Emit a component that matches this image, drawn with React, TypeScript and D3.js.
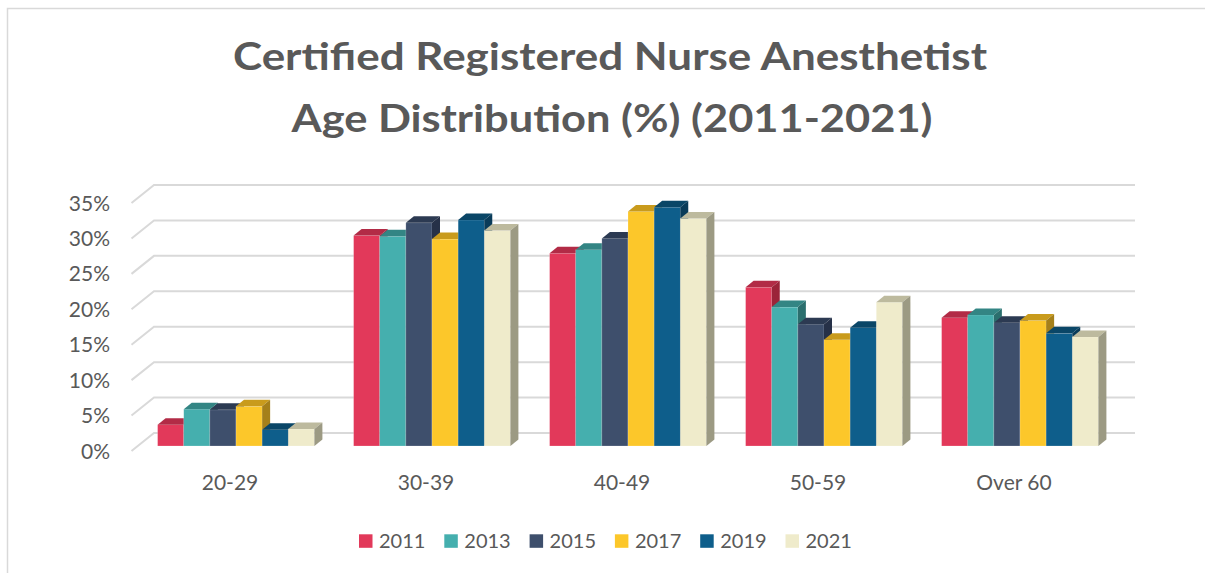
import React, { useRef, useEffect } from "react";
import * as d3 from "d3";

const categories = ["20-29", "30-39", "40-49", "50-59", "Over 60"];
const years = ["2011", "2013", "2015", "2017", "2019", "2021"];

const values2011 = [3.0, 29.7, 27.2, 22.4, 18.1];
const values2013 = [5.2, 29.6, 27.7, 19.6, 18.5];
const values2015 = [5.1, 31.5, 29.3, 17.2, 17.4];
const values2017 = [5.6, 29.2, 33.1, 15.0, 17.7];
const values2019 = [2.3, 31.9, 33.7, 16.7, 15.9];
const values2021 = [2.4, 30.4, 32.1, 20.3, 15.4];

const yTicks = [0, 5, 10, 15, 20, 25, 30, 35];

const frontColors = ["#E2395A", "#45AFAE", "#3E4F6C", "#FCC72A", "#0E5E8B", "#EFEBCB"];
const topColors = ["#B22B46", "#338584", "#2C3A52", "#C99B1C", "#0A4667", "#BDBA9E"];
const sideColors = ["#9B2339", "#2B6F6E", "#263148", "#A5801A", "#093B59", "#9C9A83"];

const FONT = "Lato, 'Open Sans', sans-serif";
const TEXT = "#595959";

const Chart = () => {
  const ref = useRef<SVGSVGElement | null>(null);

  useEffect(() => {
    if (!ref.current) return;
    const svg = d3.select(ref.current);
    svg.selectAll("*").remove();

    const series = [values2011, values2013, values2015, values2017, values2019, values2021];

    // front plane of the floor and the depth offsets of the 3d look
    const left = 132, right = 1112;
    const wallDx = 22, wallDy = -18;
    const planeDx = 6, planeDy = -5;
    const barDx = 8, barDy = -6.5;

    const y = d3.scaleLinear().domain([0, 35]).range([451, 203]);
    const x0 = d3.scaleBand().domain(categories).range([left, right]).paddingInner(0.2).paddingOuter(0.1);
    const x1 = d3.scaleBand().domain(years).range([0, x0.bandwidth()]);

    // chart border
    svg.append("rect")
      .attr("x", 7.5).attr("y", 8.5)
      .attr("width", 1300).attr("height", 700)
      .attr("fill", "#fff")
      .attr("stroke", "#d9d9d9").attr("stroke-width", 1.5);

    // title
    const title = svg.append("text")
      .attr("text-anchor", "middle")
      .attr("font-family", FONT)
      .attr("font-weight", 700)
      .attr("font-size", 38)
      .attr("fill", TEXT);
    title.append("tspan").attr("x", 610).attr("y", 70)
      .attr("textLength", 754).attr("lengthAdjust", "spacingAndGlyphs")
      .text("Certified Registered Nurse Anesthetist");
    title.append("tspan").attr("x", 612).attr("y", 132)
      .attr("textLength", 641).attr("lengthAdjust", "spacingAndGlyphs")
      .text("Age Distribution (%) (2011-2021)");

    // gridlines on floor edge + back wall
    svg.append("g")
      .selectAll("path")
      .data(yTicks)
      .enter()
      .append("path")
      .attr("d", d => `M${left - 0.5},${y(d)} L${left + wallDx},${y(d) + wallDy} L${right + wallDx + 1},${y(d) + wallDy}`)
      .attr("fill", "none")
      .attr("stroke", "#d9d9d9")
      .attr("stroke-width", 2);

    // y axis labels
    svg.append("g")
      .selectAll("text")
      .data(yTicks)
      .enter()
      .append("text")
      .attr("x", 110)
      .attr("y", d => y(d))
      .attr("dy", "0.36em")
      .attr("text-anchor", "end")
      .attr("font-family", FONT)
      .attr("font-size", 21)
      .attr("fill", TEXT)
      .text(d => d + "%");

    // bars
    const bars = svg.append("g");
    categories.forEach((cat, i) => {
      years.forEach((yr, j) => {
        const v = series[j][i];
        const bx = (x0(cat) as number) + (x1(yr) as number) + planeDx;
        const w = x1.bandwidth();
        const top = y(v) + planeDy;
        const bottom = y(0) + planeDy;
        const g = bars.append("g");
        g.append("rect")
          .attr("x", bx).attr("y", top)
          .attr("width", w).attr("height", bottom - top)
          .attr("fill", frontColors[j])
          .attr("stroke", "rgba(255,255,255,0.35)").attr("stroke-width", 0.6);
        g.append("path")
          .attr("d", `M${bx},${top} L${bx + w},${top} L${bx + w + barDx},${top + barDy} L${bx + barDx},${top + barDy} Z`)
          .attr("fill", topColors[j]);
        g.append("path")
          .attr("d", `M${bx + w},${top} L${bx + w + barDx},${top + barDy} L${bx + w + barDx},${bottom + barDy} L${bx + w},${bottom} Z`)
          .attr("fill", sideColors[j]);
      });
    });

    // category labels
    svg.append("g")
      .selectAll("text")
      .data(categories)
      .enter()
      .append("text")
      .attr("x", d => (x0(d) as number) + x0.bandwidth() / 2)
      .attr("y", 482)
      .attr("dy", "0.36em")
      .attr("text-anchor", "middle")
      .attr("font-family", FONT)
      .attr("font-size", 21)
      .attr("fill", TEXT)
      .text(d => d);

    // legend
    const legendX = d3.scaleLinear().domain([0, years.length - 1]).range([359, 785.5]);
    const legend = svg.append("g")
      .selectAll("g")
      .data(years)
      .enter()
      .append("g")
      .attr("transform", (d, j) => `translate(${legendX(j)},541)`);
    legend.append("rect")
      .attr("x", 0).attr("y", -6.7)
      .attr("width", 13.5).attr("height", 13.5)
      .attr("fill", (d, j) => frontColors[j]);
    legend.append("text")
      .attr("x", 20)
      .attr("y", 0)
      .attr("dy", "0.36em")
      .attr("font-family", FONT)
      .attr("font-size", 20)
      .attr("fill", TEXT)
      .text(d => d);
  }, []);

  return <svg ref={ref} width={1205} height={573} style={{ position: "absolute", left: 0, top: 0, background: "#fff" }}></svg>;
};

export default function App() {
  return <Chart />;
}
